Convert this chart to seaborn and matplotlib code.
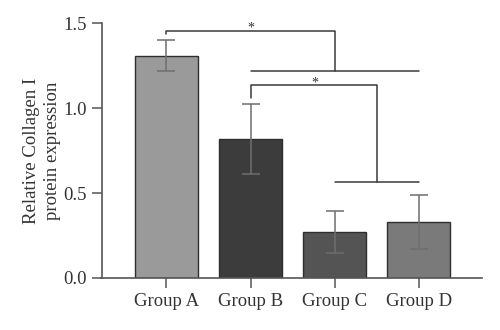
import matplotlib
matplotlib.use("Agg")
import matplotlib.pyplot as plt
import seaborn as sns
import numpy as np

groups = ["Group A", "Group B", "Group C", "Group D"]
means = [1.31, 0.82, 0.27, 0.33]
errs = [0.09, 0.205, 0.126, 0.157]
bar_colors = ["#9a9a9a", "#3c3c3c", "#545454", "#7a7a7a"]
yticks = [0.0, 0.5, 1.0, 1.5]
ylabel = "Relative Collagen I\nprotein expression"

sns.set_theme(style="white")
plt.rcParams["font.family"] = ["Liberation Serif", "DejaVu Serif"]

fig = plt.figure(figsize=(5, 3.3), dpi=100)
ax = fig.add_axes([0.203, 0.158, 0.761, 0.771])

sns.barplot(x=groups, y=means, hue=groups, palette=bar_colors, legend=False,
            edgecolor="#2e2e2e", linewidth=1.0, width=0.75, ax=ax, saturation=1)
xs = np.arange(len(groups))
ax.errorbar(xs, means, yerr=errs, fmt="none", ecolor="#6e6e6e",
            elinewidth=1.1, capsize=6.5, capthick=1.1, zorder=5)

ax.set_xlim(-0.77, 3.75)
ax.set_ylim(0, 1.5)
ax.set_yticks(yticks)
ax.set_yticklabels([f"{v:.1f}" for v in yticks])
ax.set_ylabel(ylabel, fontsize=13.5, color="#333333", labelpad=2, linespacing=1.25)
ax.set_xlabel("")
ax.tick_params(axis="both", labelsize=13.5, colors="#555555", labelcolor="#333333",
               length=7, width=1.1, direction="out", left=True, bottom=True)
ax.tick_params(axis="x", pad=4)
for s in ["top", "right"]:
    ax.spines[s].set_visible(False)
for s in ["left", "bottom"]:
    ax.spines[s].set_color("#555555")
    ax.spines[s].set_linewidth(1.2)

lc = "#3a3a3a"
lw = 1.1
# bracket 1: A vs (B, C, D)
ax.plot([0, 0, 2, 2], [1.437, 1.456, 1.456, 1.221], color=lc, lw=lw, clip_on=False)
ax.plot([1, 3], [1.221, 1.221], color=lc, lw=lw, clip_on=False)
ax.text(1.0, 1.475, "*", ha="center", va="center", fontsize=10, color="#333333")
# bracket 2: B vs (C, D)
ax.plot([1, 1, 2.5, 2.5], [1.058, 1.135, 1.135, 0.565], color=lc, lw=lw, clip_on=False)
ax.plot([2, 3], [0.565, 0.565], color=lc, lw=lw, clip_on=False)
ax.text(1.77, 1.15, "*", ha="center", va="center", fontsize=10, color="#333333")

fig.savefig("out.png", dpi=100)
